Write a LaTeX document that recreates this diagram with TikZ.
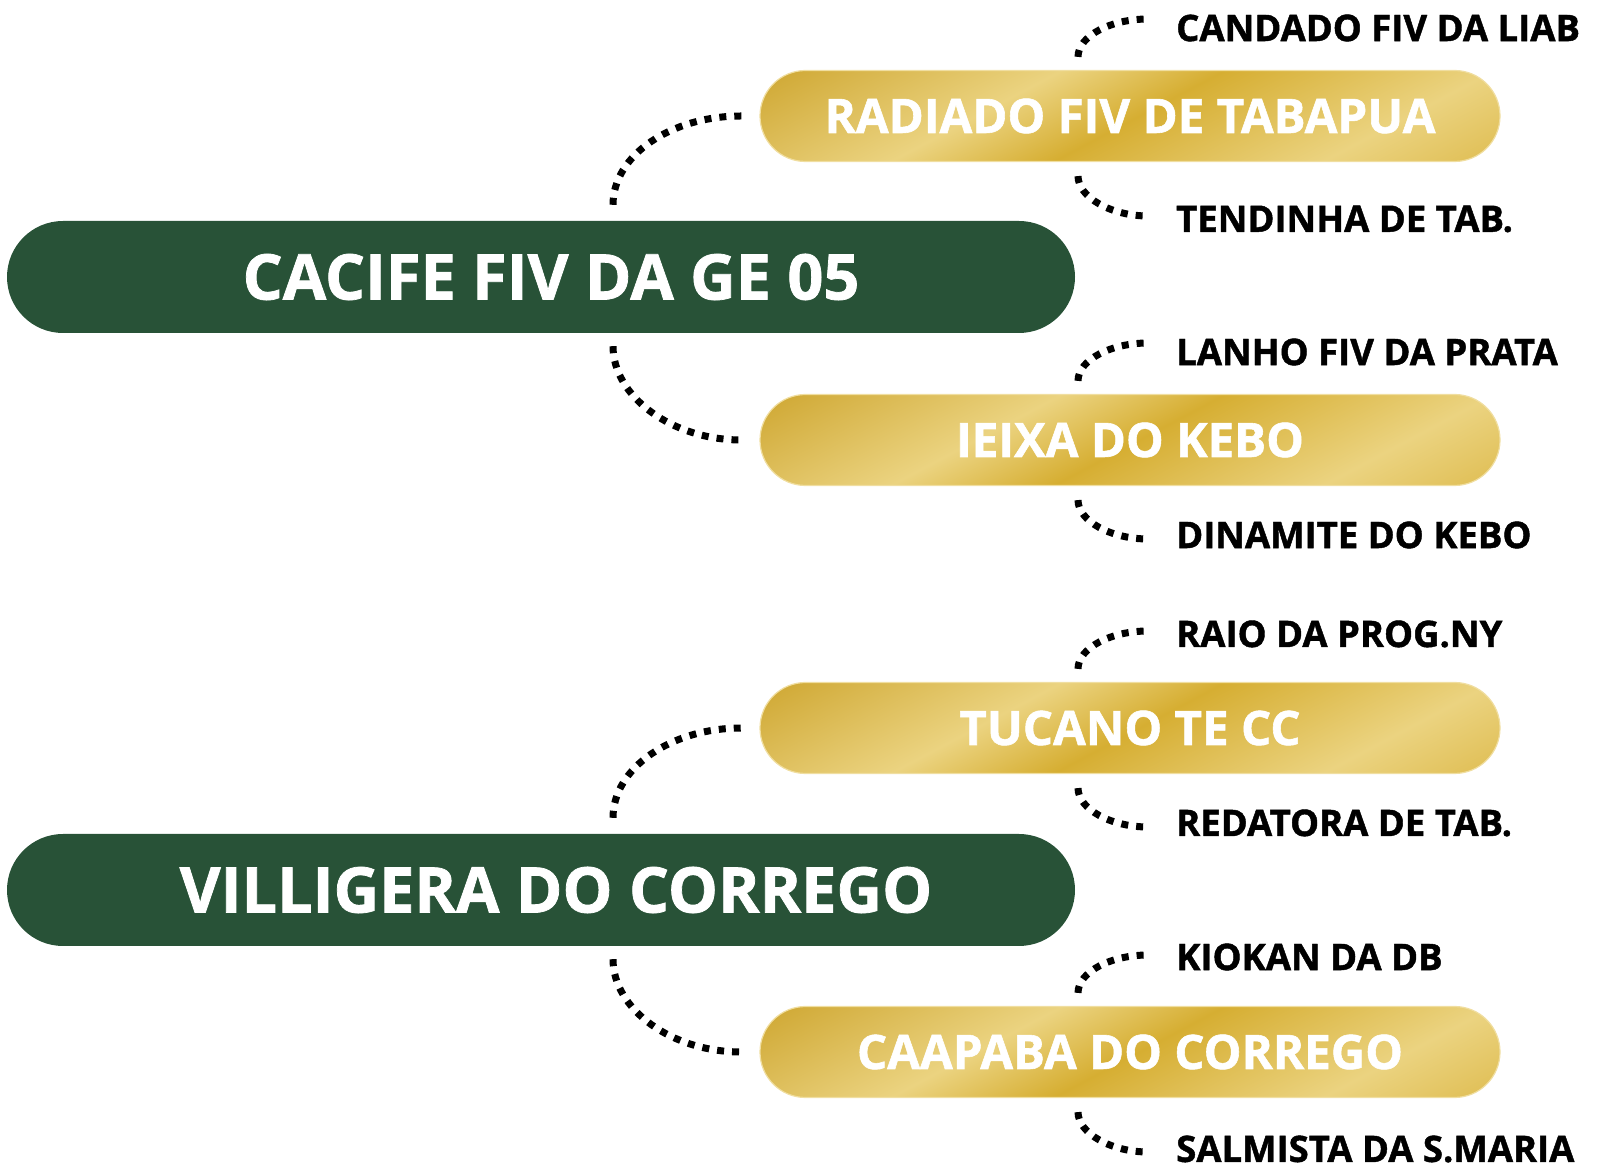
\documentclass[tikz,border=0pt]{standalone}
\usepackage{fontspec}
\setmainfont{Open Sans}[BoldFeatures={FakeBold=1.2}]
\usetikzlibrary{shapes.misc}

\definecolor{verde}{RGB}{40,82,55}
\definecolor{ourodark}{RGB}{206,166,48}
\definecolor{ouromid}{RGB}{223,189,82}
\definecolor{ourolight}{RGB}{235,211,128}
\definecolor{ouroband}{RGB}{214,174,50}
\definecolor{ouroedge}{RGB}{240,222,160}

\pgfdeclarehorizontalshading{ouro}{720bp}{color(0bp)=(ourodark); color(16bp)=(ourodark); color(158bp)=(ourolight); color(234bp)=(ouroband); color(360bp)=(ourolight); color(442bp)=(ouromid); color(460bp)=(ouromid)}

\begin{document}
\begin{tikzpicture}[x=1pt,y=1pt,
	raiz/.style={rounded rectangle, fill=verde, text=white, minimum width=1068pt, minimum height=112pt, inner sep=0pt, font=\fontsize{63}{63}\selectfont\bfseries},
	ramo/.style={rounded rectangle, draw=ouroedge, line width=1.2pt, minimum width=740pt, minimum height=91pt, inner sep=0pt, text=white, font=\fontsize{47.5}{47.5}\selectfont\bfseries,
		path picture={\pgftext[at=\pgfpointanchor{path picture bounding box}{center},rotate=-62]{\pgfuseshading{ouro}}}},
	folha/.style={anchor=west, inner sep=0pt, font=\fontsize{36.5}{36.5}\selectfont\bfseries},
	pontos/.style={line width=7pt, dash pattern=on 7pt off 8pt}]

	\useasboundingbox (0,0) rectangle (1604,1173);

	\node [raiz] (r1) at (541,896) {\hspace*{20pt}CACIFE FIV DA GE 05};
	\node [raiz] (r2) at (541,283) {\hspace*{30pt}VILLIGERA DO CORREGO};

	\node [ramo] (g1) at ([xshift=589pt,yshift=161pt]r1.center) {RADIADO FIV DE TABAPUA};
	\node [ramo] (g2) at ([xshift=589pt,yshift=-163pt]r1.center) {IEIXA DO KEBO};
	\node [ramo] (g3) at ([xshift=589pt,yshift=162pt]r2.center) {TUCANO TE CC};
	\node [ramo] (g4) at ([xshift=589pt,yshift=-162pt]r2.center) {CAAPABA DO CORREGO};

	\foreach \g/\n/\dy/\t in {1/1/88/CANDADO FIV DA LIAB, 1/2/-103/TENDINHA DE TAB., 2/3/88/LANHO FIV DA PRATA, 2/4/-95/DINAMITE DO KEBO, 3/5/94/RAIO DA PROG.NY, 3/6/-95/REDATORA DE TAB., 4/7/95/KIOKAN DA DB, 4/8/-97/SALMISTA DA S.MARIA}
	{
		\node [folha] (f\n) at ([xshift=46pt,yshift=\dy pt]g\g.center) {\t};
	}

	\draw [pontos] ([xshift=72pt,yshift=16pt]r1.north) .. controls +(0,50) and +(-70,0) .. ([xshift=-18pt]g1.west);
	\draw [pontos] ([xshift=72pt,yshift=-13pt]r1.south) .. controls +(0,-50) and +(-70,0) .. ([xshift=-18pt]g2.west);
	\draw [pontos] ([xshift=72pt,yshift=16pt]r2.north) .. controls +(0,50) and +(-70,0) .. ([xshift=-18pt]g3.west);
	\draw [pontos] ([xshift=72pt,yshift=-13pt]r2.south) .. controls +(0,-50) and +(-70,0) .. ([xshift=-18pt]g4.west);

	\foreach \g/\a/\b/\ua/\ub in {1/1/2/9/3, 2/3/4/9/-4, 3/5/6/3/-4, 4/7/8/2/-3}
	{
		\draw [pontos] ([xshift=-52pt,yshift=13pt]g\g.north) .. controls +(0,21) and +(-37,0) .. ([xshift=-28pt,yshift=\ua pt]f\a.west);
		\draw [pontos] ([xshift=-52pt,yshift=-14pt]g\g.south) .. controls +(0,-21) and +(-37,0) .. ([xshift=-28pt,yshift=\ub pt]f\b.west);
	}

\end{tikzpicture}
\end{document}
